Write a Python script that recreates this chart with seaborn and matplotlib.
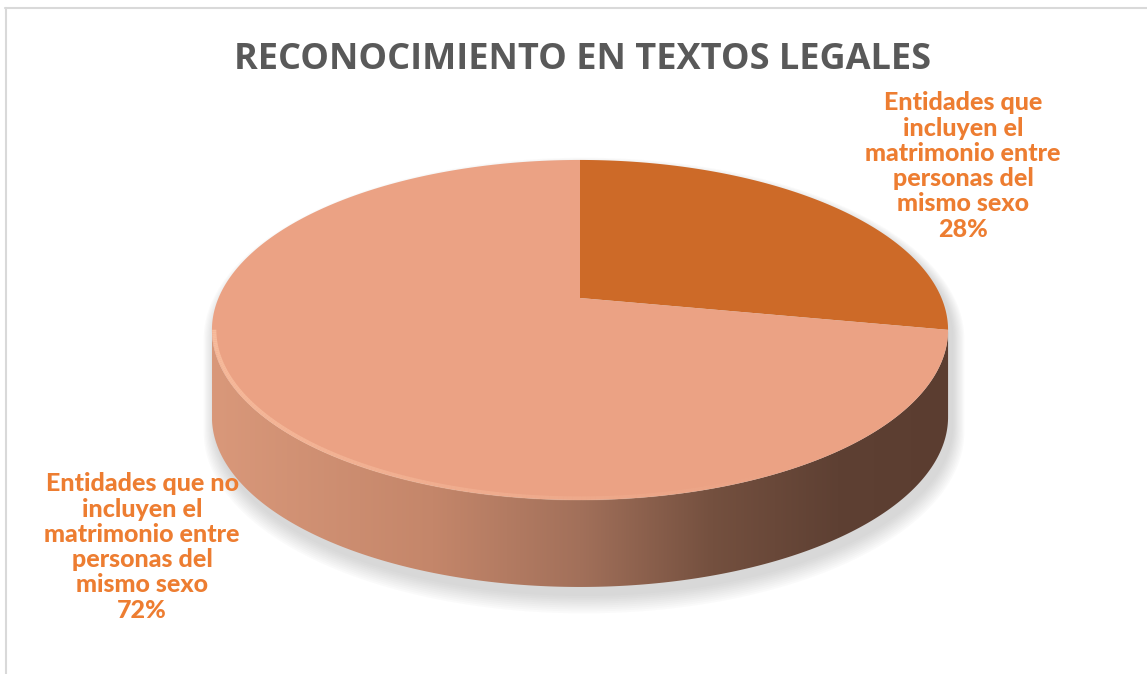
import numpy as np
import matplotlib
matplotlib.use("Agg")
import matplotlib.pyplot as plt
import seaborn as sns
from matplotlib.patches import Polygon
from matplotlib.colors import LinearSegmentedColormap
from matplotlib.lines import Line2D
from matplotlib.collections import LineCollection
from matplotlib.transforms import Transform
from matplotlib.path import Path

# ---------------- data ----------------
title = "RECONOCIMIENTO EN TEXTOS LEGALES"
categories = [
    "Entidades que\nincluyen el\nmatrimonio entre\npersonas del\nmismo sexo",
    "Entidades que no\nincluyen el\nmatrimonio entre\npersonas del\nmismo sexo",
]
values = [28, 72]
slice_colors = ["#cd6a28", "#eba284"]


# ---------------- perspective transform for the tilted disc ----------------
class Perspective(Transform):
    input_dims = 2
    output_dims = 2
    is_separable = False
    has_inverse = False

    def __init__(self, k):
        super().__init__()
        self.k = k

    def transform_non_affine(self, values):
        xy = np.asarray(values, dtype=float).reshape(-1, 2)
        w = 1 + self.k * xy[:, 1]
        return np.column_stack([xy[:, 0] / w, xy[:, 1] / w])

    def transform_path_non_affine(self, path):
        pts = []
        tt = np.linspace(0, 1, 40)
        for bez, code in path.iter_bezier():
            if code == Path.MOVETO:
                pts.append(np.asarray(bez.control_points)[-1:])
            else:
                pts.append(bez(tt)[1:])
        verts = np.vstack(pts)
        return Path(self.transform_non_affine(verts), closed=False)


# ---------------- style ----------------
sns.set_theme(style="white")
W, H = 1147, 674
fig = plt.figure(figsize=(W / 100, H / 100), dpi=100)
fig.patch.set_facecolor("white")

k = 0.188
cx, cy = 580, 298          # pixel position of the pie centre (vertex)
rx, ry = 361.5, 164.0
depth_px = 87

ax = fig.add_axes([0, 0, 1, 1])
ax.set_facecolor("none")
persp = Perspective(k)


def proj(t, r=1.0):
    p = persp.transform_non_affine(np.column_stack([r * np.cos(t), r * np.sin(t)]))
    return p[:, 0], p[:, 1]


d = depth_px / ry
a0 = np.arcsin(k)
t_front = np.linspace(np.pi + a0, 2 * np.pi - a0, 300)
t_back = np.linspace(-a0, np.pi + a0, 300)

# soft shadow of the whole disc
fx, fy = proj(t_front)
bx, by = proj(t_back)
sil = np.vstack([np.column_stack([bx, by]), np.column_stack([fx, fy - d])])
for s in range(10, 0, -1):
    pts = sil * [1 + s * 1.2 / rx, 1 + s * 1.1 / ry] + [4 / rx, -7 / ry]
    ax.add_patch(Polygon(pts, closed=True, facecolor="#7f7f7f", edgecolor="none",
                         alpha=0.03, zorder=1))

# side wall with horizontal gradient
side_pts = np.vstack([np.column_stack([fx, fy]),
                      np.column_stack([fx[::-1], fy[::-1] - d])])
side_poly = Polygon(side_pts, closed=True, facecolor="none", edgecolor="none",
                    transform=ax.transData)
ax.add_patch(side_poly)
side_cmap = LinearSegmentedColormap.from_list(
    "side", [(0.0, "#d9987a"), (0.3, "#c4866a"), (0.5, "#a2705a"),
             (0.68, "#74503f"), (0.85, "#5e4033"), (1.0, "#5b3d30")])
grad = np.linspace(0, 1, 512).reshape(1, -1)
im = ax.imshow(grad, extent=(fx.min(), fx.max(), (fy - d).min(), fy.max()),
               cmap=side_cmap, aspect="auto", interpolation="bicubic", zorder=3)
im.set_clip_path(side_poly)

# top face: the pie itself, seen in perspective
wedges, _ = ax.pie(values, colors=slice_colors, startangle=90, counterclock=False,
                   radius=1, center=(0, 0), frame=True,
                   wedgeprops=dict(linewidth=0))
for w in wedges:
    w.set_transform(persp + ax.transData)
    w.set_zorder(5)

# bevel highlight on the front rim
tt = np.linspace(np.pi + a0, 1.72 * np.pi, 200)
hx, hy = proj(tt, 0.994)
segs = np.stack([np.column_stack([hx[:-1], hy[:-1]]),
                 np.column_stack([hx[1:], hy[1:]])], axis=1)
alphas = np.clip(np.linspace(1.0, -0.1, len(segs)), 0, 1) * 0.85
cols = [(0.98, 0.76, 0.64, a) for a in alphas]
ax.add_collection(LineCollection(segs, colors=cols, linewidths=3, zorder=6))

ax.set_xlim(-cx / rx, (W - cx) / rx)
ax.set_ylim((cy - H) / ry, cy / ry)
ax.set_aspect("auto")
ax.axis("off")

# ---------------- texts ----------------
fig.text(583 / W, 1 - 60 / H, title, ha="center", va="center", fontsize=26,
         fontweight="bold", color="#595959", family="Open Sans")

total = sum(values)
label_pos = [(963, 166), (142, 547)]
for cat, v, (px, py) in zip(categories, values, label_pos):
    fig.text(px / W, 1 - py / H, f"{cat}\n{v / total * 100:.0f}%", ha="center",
             va="center", multialignment="center", fontsize=18, fontweight="black",
             color="#ed7d31", family="Lato", linespacing=1.12)

# frame lines (top and left)
fig.add_artist(Line2D([5 / W, 1], [1 - 8 / H, 1 - 8 / H], transform=fig.transFigure,
                      color="#d9d9d9", lw=1.5))
fig.add_artist(Line2D([6 / W, 6 / W], [1 - 8 / H, 0], transform=fig.transFigure,
                      color="#d9d9d9", lw=1.5))

fig.savefig("out.png", dpi=100, facecolor="white")
